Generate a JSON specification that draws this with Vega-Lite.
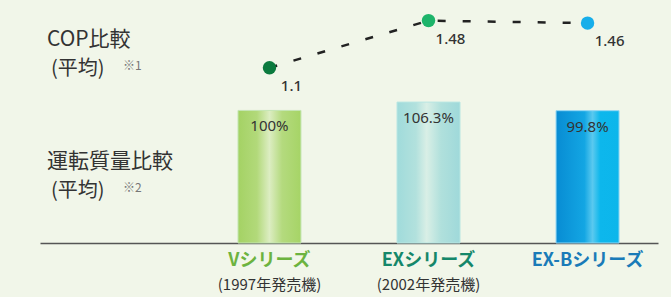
{
  "$schema": "https://vega.github.io/schema/vega-lite/v6.json",
  "width": 618,
  "height": 243,
  "autosize": {"type": "none"},
  "padding": {"left": 40, "right": 13, "top": 0, "bottom": 54},
  "background": "#f1f6e9",
  "config": {"view": {"stroke": null}, "font": "Noto Sans CJK JP"},
  "datasets": {
    "series": [
      {"series": "V", "name": "Vシリーズ", "sub": "(1997年発売機)", "mass": 100, "massLabel": "100%", "cop": 1.1, "copLabel": "1.1"},
      {"series": "EX", "name": "EXシリーズ", "sub": "(2002年発売機)", "mass": 106.3, "massLabel": "106.3%", "cop": 1.48, "copLabel": "1.48"},
      {"series": "EX-B", "name": "EX-Bシリーズ", "sub": "", "mass": 99.8, "massLabel": "99.8%", "cop": 1.46, "copLabel": "1.46"}
    ],
    "headers": [
      {"row": "COP", "main": "COP比較", "avg": "(平均)", "note": "※1"},
      {"row": "mass", "main": "運転質量比較", "avg": "(平均)", "note": "※2"}
    ]
  },
  "encoding": {
    "x": {
      "field": "series",
      "type": "nominal",
      "scale": {"domain": ["_", "V", "EX", "EX-B"], "paddingInner": 0.604, "paddingOuter": 0.245},
      "axis": {"labels": false, "ticks": false, "title": null, "domainColor": "#555555", "domainWidth": 1.5, "grid": false}
    }
  },
  "layer": [
    {
      "data": {"name": "series"},
      "transform": [{"filter": "datum.series == 'V'"}],
      "mark": {"type": "bar", "stroke": "#c4e6b4", "strokeWidth": 1,
        "color": {"gradient": "linear", "x1": 0, "x2": 1, "y1": 0, "y2": 0,
          "stops": [{"offset": 0, "color": "#a4d264"}, {"offset": 0.3, "color": "#b2d97a"}, {"offset": 0.5, "color": "#dcedc2"}, {"offset": 0.7, "color": "#b4da7e"}, {"offset": 1, "color": "#a6d466"}]}},
      "encoding": {"y": {"field": "mass", "type": "quantitative", "scale": {"domain": [0, 183.3]}, "axis": null}}
    },
    {
      "data": {"name": "series"},
      "transform": [{"filter": "datum.series == 'EX'"}],
      "mark": {"type": "bar", "stroke": "#b8e6e2", "strokeWidth": 1,
        "color": {"gradient": "linear", "x1": 0, "x2": 1, "y1": 0, "y2": 0,
          "stops": [{"offset": 0, "color": "#a0dbdb"}, {"offset": 0.3, "color": "#b2e1dd"}, {"offset": 0.47, "color": "#d9efe6"}, {"offset": 0.7, "color": "#b0e0dc"}, {"offset": 1, "color": "#9fd9da"}]}},
      "encoding": {"y": {"field": "mass", "type": "quantitative", "scale": {"domain": [0, 183.3]}, "axis": null}}
    },
    {
      "data": {"name": "series"},
      "transform": [{"filter": "datum.series == 'EX-B'"}],
      "mark": {"type": "bar", "stroke": "#8fd6f4", "strokeWidth": 1,
        "color": {"gradient": "linear", "x1": 0, "x2": 1, "y1": 0, "y2": 0,
          "stops": [{"offset": 0, "color": "#088cd3"}, {"offset": 0.45, "color": "#13a6e3"}, {"offset": 0.58, "color": "#5ac9ef"}, {"offset": 0.7, "color": "#0db7ec"}, {"offset": 1, "color": "#0cb6eb"}]}},
      "encoding": {"y": {"field": "mass", "type": "quantitative", "scale": {"domain": [0, 183.3]}, "axis": null}}
    },
    {
      "data": {"name": "series"},
      "mark": {"type": "text", "fontSize": 15, "color": "#333333", "baseline": "middle", "dy": 16, "font": "Noto Sans", "letterSpacing": -1},
      "encoding": {
        "y": {"field": "mass", "type": "quantitative", "scale": {"domain": [0, 183.3]}, "axis": null},
        "text": {"field": "massLabel"}
      }
    },
    {
      "data": {"name": "series"},
      "mark": {"type": "line", "color": "#222222", "strokeWidth": 2.5, "strokeDash": [8, 17]},
      "encoding": {
        "y": {"field": "cop", "type": "quantitative", "scale": {"domain": [-0.3149, 1.6464]}, "axis": null}
      }
    },
    {
      "data": {"name": "series"},
      "mark": {"type": "point", "filled": true, "opacity": 1, "size": 180},
      "encoding": {
        "y": {"field": "cop", "type": "quantitative", "scale": {"domain": [-0.3149, 1.6464]}, "axis": null},
        "color": {"field": "series", "type": "nominal", "scale": {"domain": ["V", "EX", "EX-B"], "range": ["#0b7a3e", "#1db46a", "#17aeea"]}, "legend": null}
      }
    },
    {
      "data": {"name": "series"},
      "mark": {"type": "text", "fontSize": 15, "fontWeight": 500, "color": "#333333", "baseline": "middle", "dx": 22, "dy": 18, "font": "Noto Sans"},
      "encoding": {
        "y": {"field": "cop", "type": "quantitative", "scale": {"domain": [-0.3149, 1.6464]}, "axis": null},
        "text": {"field": "copLabel"}
      }
    },
    {
      "data": {"name": "series"},
      "mark": {"type": "text", "fontSize": 18, "fontWeight": "bold", "baseline": "middle", "dy": 18},
      "encoding": {
        "y": {"datum": 0, "type": "quantitative", "scale": {"domain": [0, 183.3]}, "axis": null},
        "text": {"field": "name"},
        "color": {"field": "series", "type": "nominal", "scale": {"domain": ["V", "EX", "EX-B"], "range": ["#6cb33f", "#15876a", "#1a7bb8"]}, "legend": null}
      }
    },
    {
      "data": {"name": "series"},
      "mark": {"type": "text", "fontSize": 15, "color": "#333333", "baseline": "middle", "dy": 42, "letterSpacing": 0.5},
      "encoding": {
        "y": {"datum": 0, "type": "quantitative", "scale": {"domain": [0, 183.3]}, "axis": null},
        "text": {"field": "sub"}
      }
    },
    {
      "data": {"name": "headers"},
      "mark": {"type": "text", "fontSize": 21, "color": "#333333", "align": "left", "baseline": "middle", "dx": -32, "dy": -1},
      "encoding": {
        "x": {"datum": "_", "bandPosition": 0},
        "y": {"field": "row", "type": "nominal", "scale": {"type": "point", "domain": ["COP", "mass"], "paddingOuter": 0.566, "align": 0.341}, "axis": null},
        "text": {"field": "main"}
      }
    },
    {
      "data": {"name": "headers"},
      "mark": {"type": "text", "fontSize": 20, "color": "#333333", "align": "left", "baseline": "middle", "dx": -28, "dy": 28, "letterSpacing": 1},
      "encoding": {
        "x": {"datum": "_", "bandPosition": 0},
        "y": {"field": "row", "type": "nominal", "scale": {"type": "point", "domain": ["COP", "mass"], "paddingOuter": 0.566, "align": 0.341}, "axis": null},
        "text": {"field": "avg"}
      }
    },
    {
      "data": {"name": "headers"},
      "mark": {"type": "text", "fontSize": 12, "color": "#777777", "align": "left", "baseline": "middle", "dx": 44, "dy": 25},
      "encoding": {
        "x": {"datum": "_", "bandPosition": 0},
        "y": {"field": "row", "type": "nominal", "scale": {"type": "point", "domain": ["COP", "mass"], "paddingOuter": 0.566, "align": 0.341}, "axis": null},
        "text": {"field": "note"}
      }
    }
  ],
  "resolve": {"scale": {"y": "independent", "color": "independent"}}
}
